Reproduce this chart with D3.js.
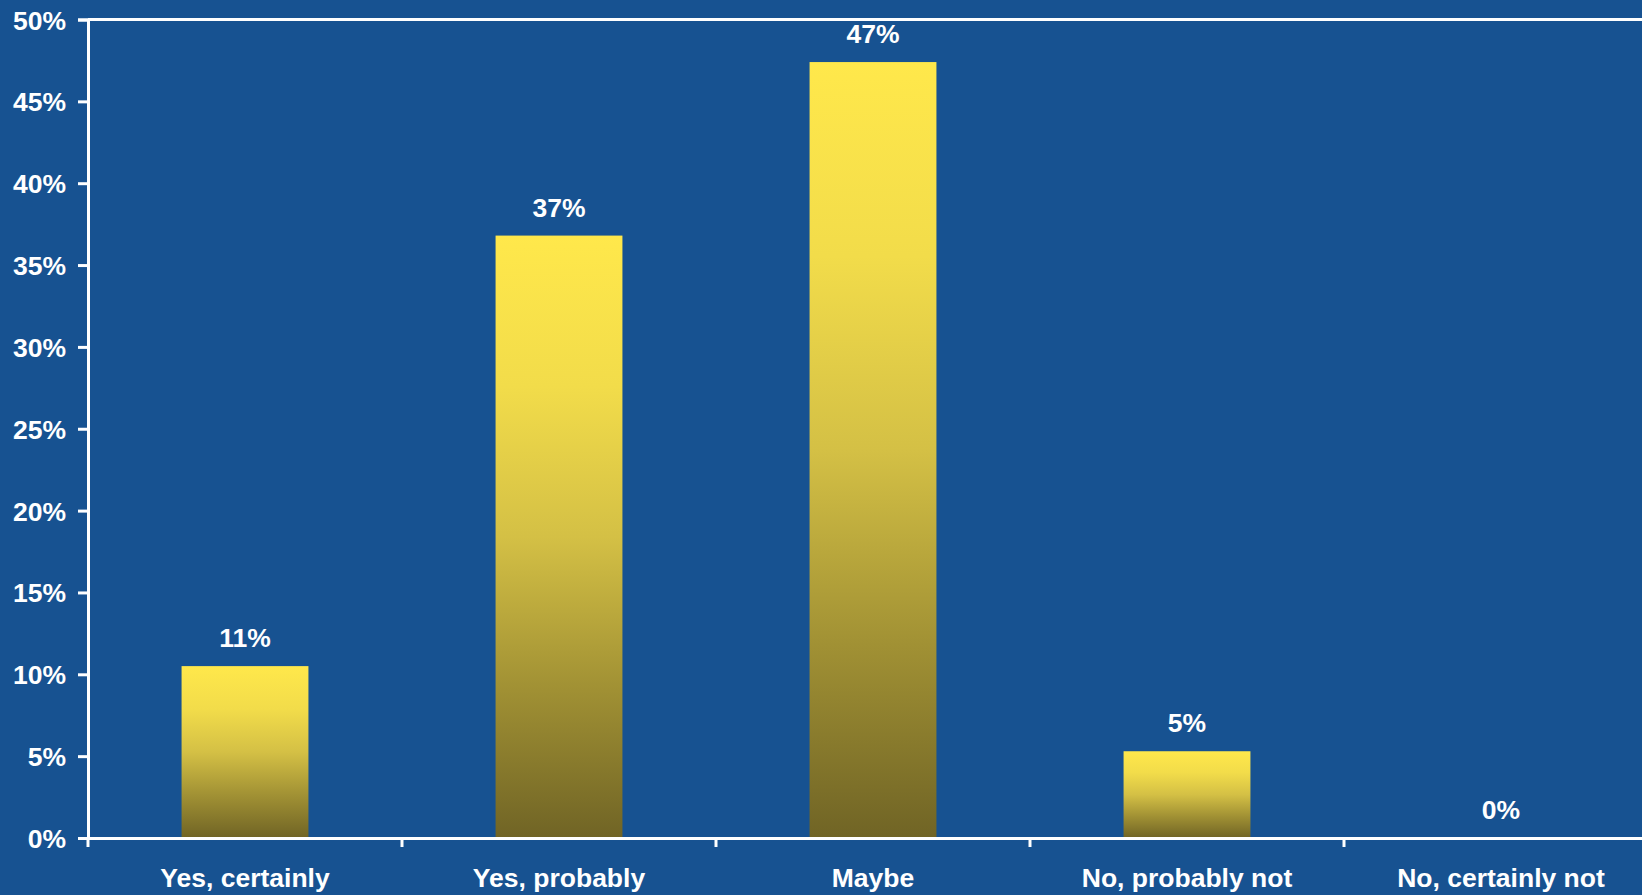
<!DOCTYPE html>
<html>
<head>
<meta charset="utf-8">
<script src="https://cdn.jsdelivr.net/npm/d3@7"></script>
<style>
  html, body { margin: 0; padding: 0; background: #175291; overflow: hidden; }
  svg { display: block; }
  text { font-family: "Liberation Sans", Arial, sans-serif; font-weight: bold; fill: #ffffff; }
</style>
</head>
<body>
<svg id="chart" width="1642" height="895"></svg>
<script>
const categories = ["Yes, certainly", "Yes, probably", "Maybe", "No, probably not", "No, certainly not"];
const values = [10.5, 36.8, 47.4, 5.3, 0];
const yTicks = [0, 5, 10, 15, 20, 25, 30, 35, 40, 45, 50];

const W = 1642, H = 895;
const margin = { left: 88, top: 19.5 };
const plotW = 1570, plotH = 818.5;
const fontSize = "26.5px";

const svg = d3.select("#chart");
svg.append("rect").attr("width", W).attr("height", H).attr("fill", "#175291");

const defs = svg.append("defs");
const grad = defs.append("linearGradient")
  .attr("id", "barGrad").attr("x1", 0).attr("y1", 0).attr("x2", 0).attr("y2", 1);
[[0, "#FFE84B"], [0.25, "#F2DC4A"], [0.5, "#D4C045"], [0.75, "#A19134"], [1, "#706425"]]
  .forEach(([o, c]) => grad.append("stop").attr("offset", o).attr("stop-color", c));

const g = svg.append("g").attr("transform", `translate(${margin.left},${margin.top})`);

const x = d3.scaleBand().domain(categories).range([0, plotW]).padding(0);
const y = d3.scaleLinear().domain([0, 50]).range([plotH, 0]);

const barFrac = 0.404;
const data = categories.map((c, i) => ({ c, v: values[i] }));

// bars
g.selectAll("rect.bar").data(data).enter().append("rect")
  .attr("class", "bar")
  .attr("x", d => x(d.c) + x.bandwidth() * (1 - barFrac) / 2)
  .attr("width", x.bandwidth() * barFrac)
  .attr("y", d => y(d.v))
  .attr("height", d => plotH - y(d.v))
  .attr("fill", "url(#barGrad)");

// top border
g.append("line").attr("x1", 0).attr("x2", plotW).attr("y1", 0).attr("y2", 0)
  .attr("stroke", "#fff").attr("stroke-width", 3);

// y axis
const yAxis = d3.axisLeft(y).tickValues(yTicks).tickFormat(d => d + "%").tickSize(10).tickPadding(12);
const ya = g.append("g").call(yAxis);
ya.select(".domain").attr("stroke", "#fff").attr("stroke-width", 3);
ya.selectAll(".tick line").attr("stroke", "#fff").attr("stroke-width", 3);
ya.selectAll(".tick text").style("font-size", fontSize).attr("fill", "#fff").attr("dy", "0.36em");

// x axis
const xa = g.append("g").attr("transform", `translate(0,${plotH})`)
  .call(d3.axisBottom(x).tickSize(0).tickPadding(30));
xa.select(".domain").attr("stroke", "#fff").attr("stroke-width", 3);
xa.selectAll(".tick text").style("font-size", fontSize).attr("fill", "#fff").attr("dy", "0.71em");
// boundary ticks
xa.selectAll("line.bound").data(categories).enter().append("line")
  .attr("class", "bound")
  .attr("x1", d => x(d)).attr("x2", d => x(d))
  .attr("y1", 0).attr("y2", 9)
  .attr("stroke", "#fff").attr("stroke-width", 3);

// value labels
g.selectAll("text.val").data(data).enter().append("text")
  .attr("class", "val")
  .attr("x", d => x(d.c) + x.bandwidth() / 2)
  .attr("y", d => y(d.v) - 19)
  .attr("text-anchor", "middle")
  .style("font-size", fontSize)
  .text(d => Math.round(d.v) + "%");
</script>
</body>
</html>
